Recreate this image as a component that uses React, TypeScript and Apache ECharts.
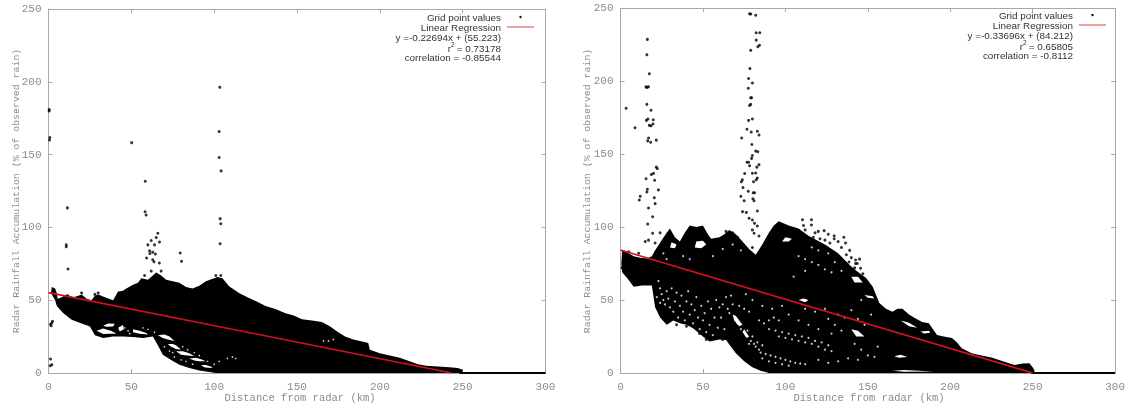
import React, { useEffect, useRef } from "react";
import * as echarts from "echarts";

type P = number[];
const xTicks = { min: 0, max: 300, interval: 50 };
const yTicks = { min: 0, max: 250, interval: 50 };
const xTitle = "Distance from radar (km)";
const yTitle = "Radar Rainfall Accumulation (% of observed rain)";
const legendDots = "Grid point values";
const legendLine = "Linear Regression";

const leftFit: P[] = [[0, 55.223], [243.3, 0]];
const rightFit: P[] = [[0, 84.212], [250, 0]];
const leftZero: P[] = [[248, 0], [300, 0]];
const rightZero: P[] = [[249, 0], [300, 0]];
const leftNotes = ["y =-0.22694x + (55.223)", "= 0.73178", "correlation = -0.85544"];
const rightNotes = ["y =-0.33696x + (84.212)", "= 0.65805", "correlation = -0.8112"];

const leftUpper: P[] = [[1.5, 55], [2, 59], [4, 58], [5, 55], [5.5, 51], [8, 52], [11, 54], [15, 52], [18, 53], [20, 54], [23, 51], [26, 50], [28, 53], [30, 54], [34, 52], [39, 50], [42, 56], [45, 56.5], [47, 58], [51, 60.6], [54, 62], [56, 65], [60, 64], [63, 67], [65, 69], [68, 67], [71, 64], [75, 63], [79, 62], [83, 59], [87, 58], [91, 60], [95, 63], [102, 66], [105, 65], [109, 59.5], [115, 55], [121, 51.5], [126, 49], [131, 46], [137, 44], [143, 41], [148, 39.5], [153, 37], [159, 36], [165, 35], [170, 32], [174, 28.6], [179, 25], [184, 23], [190, 21.5], [193, 20.6], [194, 16], [200, 13.5], [206, 12], [212, 10.5], [218, 8], [223, 6], [228, 5], [235, 4.5], [242, 4], [247, 3.5], [250, 2.3], [250, 0]];
const leftLower: P[] = [[1.5, 55], [4, 50], [5, 46], [9, 41], [14, 36.6], [20, 34], [25, 32], [28, 26], [33, 24], [39, 25], [45, 25], [51, 24.7], [57, 24], [63, 25], [66, 19], [69, 12.6], [74, 9], [79, 5.7], [85, 3.5], [91, 1.8], [101, 0], [250, 0]];
const leftHoles: P[][] = [
  [[29, 29], [33, 30.5], [38, 28.8], [41, 27], [37, 27], [33, 26.8]],
  [[33, 32.5], [36, 34], [40, 33.8], [39, 32], [35, 31.8]],
  [[42, 31], [45, 33], [45.5, 30], [43, 28.5]],
  [[51, 30], [55, 29], [59, 27.5], [60, 26.5], [55, 27], [51, 28]],
  [[66, 26], [70, 26.5], [73, 25], [76, 22], [72, 23], [69, 24]],
  [[72, 20], [75, 20], [77, 19], [80, 16], [77, 16.5], [74, 18]],
  [[77, 15], [81, 15], [85, 13.5], [88, 11.5], [84, 12], [80, 12.5]],
  [[85, 10], [89, 10.5], [92, 9.5], [95, 8], [91, 8], [88, 8.5]],
  [[92, 5.5], [95, 5.5], [98, 4.5], [99, 3.5], [96, 3.6], [94, 4]],
];
const leftSpecks: P[] = [[73, 15], [75, 14], [76, 11], [70, 18], [81, 18], [84, 16], [88, 14], [91, 12], [83, 8], [87, 6], [80, 9], [96, 8], [100, 6], [108, 10], [111, 11], [113, 10], [103, 8], [60, 30], [57, 31], [64, 28], [46, 31], [48, 29], [49, 27], [169, 22], [172, 23], [166, 22], [198, 17], [201, 16]];
const leftPoints: P[] = [[0.4, 181], [0.4, 180], [0.8, 161.7], [0.6, 160], [50.2, 158.2], [58.4, 131.7], [103.4, 196.2], [103, 165.8], [103, 148], [104.2, 138.8], [11.4, 113.4], [10.7, 88], [10.7, 86.7], [11.8, 71.4], [58.3, 110.7], [58.9, 108.5], [103.6, 106], [104, 102.5], [103.6, 88.8], [1.2, 9.6], [2, 5.7], [1, 5], [2, 34.3], [1.6, 32.5], [2.4, 35.5], [1.2, 33.5], [59.2, 79], [61.2, 82], [62.9, 83], [64.5, 81.7], [62.9, 77.8], [63.7, 76.4], [66.9, 75.5], [79.5, 82.4], [80.3, 76.7], [60, 88], [62, 91], [65, 93], [64, 88], [67, 90], [61, 84], [66, 96], [11.5, 53], [20, 55], [28, 54], [30, 55], [62, 70], [68, 70], [101, 67], [104, 67], [58, 67]];

const rightUpper: P[] = [[0.5, 75], [1, 84], [5, 82], [8, 80], [12, 79], [16, 78.5], [19, 80], [21, 84], [25, 91], [28, 96], [30, 99], [33, 93], [36, 90], [39, 96], [42, 101], [46, 100], [50, 101], [53, 95], [55, 92], [60, 93], [63, 95], [66, 98], [70, 95], [74, 90], [78, 85], [82, 81], [86, 88], [90, 96], [93, 101], [96, 104], [102, 101], [108, 99], [114, 94], [124, 88], [132, 82], [139, 74], [143, 70], [149, 65], [153, 59], [157, 48], [161, 44], [165, 42], [168, 44], [171, 44], [175, 40], [179, 37.4], [183, 35], [187, 34], [192, 26], [196, 25], [201, 24], [204, 21], [207, 17], [213, 13.5], [219, 12], [225, 10.7], [232, 8], [239, 5.5], [244, 6.5], [248, 6.6], [250, 4], [251, 2], [251, 0]];
const rightLower: P[] = [[0.5, 75], [1, 69], [4, 65], [8, 59], [13, 60], [19, 60], [21, 45], [24, 38], [28, 33], [32, 36], [36, 34], [40, 33], [44, 30.6], [50, 25], [54, 21.5], [60, 23], [64, 22.6], [67, 18], [70, 13.5], [75, 8], [80, 4], [85, 1.5], [90, 0], [251, 0]];
const rightHoles: P[][] = [
  [[45, 86], [49, 85.5], [52, 88], [50, 90.5], [46, 90]],
  [[30, 86], [33, 85.5], [34, 88], [31, 89.5]],
  [[98, 90], [102, 90], [104, 92], [100, 93]],
  [[108, 50], [112, 48.5], [114, 50], [111, 51]],
  [[68, 40], [70, 39], [74, 33], [72, 32], [69, 36]],
  [[75, 30], [78, 25], [76.5, 24], [74, 28]],
  [[140, 66], [144, 66], [147, 62], [142, 62]],
  [[140, 30], [144, 29], [148, 25], [143, 25]],
  [[170, 36], [175, 34.5], [180, 31], [175, 32]],
  [[182, 28.5], [187, 29], [188, 27.5], [184, 27]],
  [[166, 11.5], [170, 12.5], [174, 11], [169, 10.5]],
  [[165, 1.5], [172, 2], [190, 1], [172, 0.8]],
  [[148, 53.5], [153, 52.5], [154, 51], [150, 51.5]],
];
const rightSpecks: P[] = [
  [23, 63], [24, 58], [25, 54], [26, 50], [27, 47], [22, 52], [24, 48], [28, 56], [29, 51], [30, 45], [31, 58], [32, 42], [33, 49], [34, 55], [35, 38], [36, 46], [37, 53], [38, 42], [39, 36], [40, 49], [41, 56], [42, 40], [43, 47], [44, 34], [45, 43], [46, 52], [47, 38], [48, 30], [49, 46], [50, 36], [51, 41], [52, 28], [53, 49], [54, 33], [55, 44], [56, 26], [57, 38], [58, 50], [59, 31], [60, 45], [61, 38], [62, 47], [63, 30], [64, 52], [65, 44], [67, 53], [68, 47],
  [66, 41], [71, 34], [73, 30], [76, 26], [77, 29], [79, 22], [80, 25], [81, 20], [82, 18], [83, 21], [84, 16], [78, 20], [86, 19],
  [90, 30], [94, 29], [98, 28], [102, 27], [106, 26], [110, 25], [114, 24], [118, 22], [122, 21], [126, 19], [96, 25], [100, 24], [104, 23], [108, 22], [112, 21], [116, 20], [120, 18], [124, 16], [128, 15],
  [85, 14], [88, 13], [91, 12], [94, 11], [97, 10], [100, 9], [103, 8], [106, 7], [109, 6.5], [112, 6], [86, 10], [90, 8], [94, 7], [98, 6], [102, 5], [120, 9], [126, 7], [132, 8], [138, 10], [144, 9],
  [72, 46], [75, 44], [78, 42], [84, 36], [87, 34], [90, 36], [93, 38], [96, 36], [102, 40], [108, 36], [114, 33], [120, 30], [126, 37], [130, 33], [134, 29], [136, 38], [128, 27], [132, 40], [142, 20], [146, 16], [150, 12], [154, 11], [156, 18], [144, 37], [148, 33], [140, 43], [112, 44], [118, 42], [124, 44], [86, 46], [92, 44], [98, 46], [80, 50], [76, 54],
  [108, 80], [112, 78], [116, 76], [120, 74], [124, 71], [128, 69], [116, 86], [120, 84], [126, 82], [130, 76], [134, 70], [62, 85], [68, 88], [73, 84], [38, 80], [42, 78], [26, 82], [28, 78], [56, 80], [105, 66], [112, 70], [152, 40], [146, 50],
];
const rightPoints: P[] = [[3.4, 181.3], [8.8, 168], [16.3, 228.5], [16, 218], [17.5, 205], [15.5, 196], [16, 195.6], [17, 196], [16, 184], [18.5, 180], [15.7, 173], [16.6, 174], [19.9, 173.5], [17.5, 169.6], [18.5, 169.4], [19.7, 170.5], [17, 161], [16.5, 159], [18.3, 158], [21.7, 159.5], [21.7, 141], [22.3, 140], [18.7, 136], [20, 136.7], [15.5, 133], [20.7, 132], [16.3, 125.8], [16, 124], [23, 125.4], [20.5, 120], [12, 121], [11.4, 118.5], [17, 113], [21, 116], [19.5, 107], [16.5, 102], [19.5, 95.7], [15, 90], [17, 91], [21, 89],
  [78.3, 246], [79, 245.9], [82, 245], [82.3, 233], [84.5, 233], [82.3, 228], [83.3, 223.5], [84.3, 224.5], [79, 221], [78.5, 208.5], [77.7, 201.7], [80, 198.6], [77.5, 195], [79, 188.5], [79.5, 188.5], [79, 184], [78.3, 183.2], [77.7, 173], [80, 174], [76.7, 167], [79.3, 165], [83, 165.6], [84, 163], [73.5, 161], [79.7, 156.5], [82, 152], [83.3, 151.5], [80, 149], [79.5, 147], [76.7, 144.3], [77.7, 144.3], [78.3, 142], [84, 142.7], [82.7, 141], [75.3, 136.6], [80, 136.8], [82, 137], [83, 133.5], [82.3, 132.3], [80.7, 131], [73.9, 132.3], [73.3, 131], [74.3, 127], [77.5, 124.5], [80.5, 123.5], [81.3, 123.5], [73, 121], [80.3, 119.4], [75, 118], [81, 118], [74, 110.5], [76.3, 110], [83, 111], [78, 106], [80, 104.8], [81.3, 102.5], [83, 100.7], [80, 98], [81, 95.7], [84, 93.8],
  [110.4, 105], [115.8, 105], [115.8, 101.4], [123.5, 97.5], [129.6, 94], [135.5, 93], [136.5, 89], [129.6, 92], [142.6, 77.4], [142.6, 75], [138.6, 76], [145.6, 71.7], [143.6, 75], [118, 96], [126, 95], [132, 90], [139, 84], [145, 78], [112, 98], [117, 93], [121, 92], [124, 91], [127, 89], [134, 86], [137, 81], [140, 79], [147, 68], [142, 72], [111, 101], [120, 97],
  [2, 78], [3, 81], [1, 72], [5, 83], [11, 82], [24, 96], [28, 92], [31, 94], [64, 97], [68, 96], [71, 93], [80, 86], [60, 90], [23, 56], [25, 44], [29, 35], [34, 33], [48, 27], [52, 23], [62, 23], [45, 32], [40, 32],
];

const gray = "#8c8c8c";
const axisColor = "#a8a8a8";
const mono = "'Liberation Mono', monospace";
const sans = "'Liberation Sans', sans-serif";

function polySeries(polys: P[][], fill: string, xi: number, yi: number, z: number) {
  return {
    type: "custom",
    xAxisIndex: xi,
    yAxisIndex: yi,
    z,
    silent: true,
    coordinateSystem: "cartesian2d",
    data: polys.map((_, i) => [i, 0]),
    renderItem: (params: any, api: any) => ({
      type: "polygon",
      shape: { points: polys[params.dataIndex].map((p) => api.coord(p)) },
      style: { fill },
    }),
  };
}
const dots = (data: P[], color: string, size: number, xi: number, yi: number, z: number) => ({
  type: "scatter", data, xAxisIndex: xi, yAxisIndex: yi, z, symbol: "circle", symbolSize: size,
  itemStyle: { color }, silent: true,
});
const line = (data: P[], color: string, width: number, xi: number, yi: number, z: number) => ({
  type: "line", data, xAxisIndex: xi, yAxisIndex: yi, z, showSymbol: false,
  lineStyle: { color, width }, silent: true,
});

function xAxis(gridIndex: number, top: boolean): any {
  return {
    type: "value", gridIndex, ...xTicks, position: top ? "top" : "bottom",
    axisLine: { show: true, onZero: false, lineStyle: { color: axisColor, width: 1 } },
    axisTick: { show: true, inside: true, length: 4, lineStyle: { color: axisColor } },
    axisLabel: { show: !top, color: gray, fontFamily: mono, fontSize: 11, margin: 8 },
    splitLine: { show: false },
  };
}
function yAxis(gridIndex: number, right: boolean): any {
  return {
    type: "value", gridIndex, ...yTicks, position: right ? "right" : "left",
    axisLine: { show: true, onZero: false, lineStyle: { color: axisColor, width: 1 } },
    axisTick: { show: true, inside: true, length: 4, lineStyle: { color: axisColor } },
    axisLabel: { show: !right, color: gray, fontFamily: mono, fontSize: 11, margin: 7 },
    splitLine: { show: false },
  };
}
const txt = (text: string, x: number, y: number, align: string, size = 9.9, family = sans, color = "#333", rotation = 0) => ({
  type: "text", x, y, rotation, z: 20,
  style: { text, fill: color, font: `${size}px ${family}`, textAlign: align, textVerticalAlign: "middle" },
});
function legend(right: number, top: number, notes: string[]) {
  return [
    txt(legendDots, right, top, "right"),
    txt(legendLine, right, top + 10, "right"),
    txt(notes[0], right, top + 20, "right"),
    txt(notes[1], right, top + 31, "right"),
    txt("r", right - 50, top + 31, "right"),
    txt("2", right - 50, top + 27.5, "left", 6.5),
    txt(notes[2], right, top + 40, "right"),
    { type: "line", z: 20, shape: { x1: right + 6, y1: top + 10, x2: right + 33, y2: top + 10 }, style: { stroke: "#e04040", lineWidth: 1 } },
    { type: "circle", z: 20, shape: { cx: right + 19.5, cy: top, r: 1.2 }, style: { fill: "#000" } },
  ];
}

export default function App() {
  const ref = useRef<HTMLDivElement>(null);
  useEffect(() => {
    const chart = echarts.init(ref.current!, undefined, { renderer: "svg" });
    chart.setOption({
      animation: false,
      backgroundColor: "#fff",
      grid: [
        { left: 48.5, top: 9, width: 497, height: 364, containLabel: false },
        { left: 620.5, top: 8, width: 497.5, height: 365, containLabel: false },
      ],
      xAxis: [xAxis(0, false), xAxis(0, true), xAxis(1, false), xAxis(1, true)],
      yAxis: [yAxis(0, false), yAxis(0, true), yAxis(1, false), yAxis(1, true)],
      series: [
        polySeries([[...leftUpper, ...[...leftLower].reverse()]], "#000", 0, 0, 2),
        polySeries(leftHoles, "#fff", 0, 0, 3),
        dots(leftSpecks, "#fff", 1.6, 0, 0, 4),
        dots(leftPoints, "#000", 3, 0, 0, 5),
        line(leftZero, "#000", 2, 0, 0, 5),
        line(leftFit, "#d8101c", 1.6, 0, 0, 6),
        polySeries([[...rightUpper, ...[...rightLower].reverse()]], "#000", 2, 2, 2),
        polySeries(rightHoles, "#fff", 2, 2, 3),
        dots(rightSpecks, "#fff", 2, 2, 2, 4),
        dots(rightPoints, "#000", 3, 2, 2, 5),
        line(rightZero, "#000", 2, 2, 2, 5),
        line(rightFit, "#d8101c", 1.6, 2, 2, 6),
      ],
      graphic: [
        txt(xTitle, 300, 398, "center", 10.5, mono, gray),
        txt(xTitle, 869, 398, "center", 10.5, mono, gray),
        txt(yTitle, 16, 191, "center", 9.9, mono, gray, Math.PI / 2),
        txt(yTitle, 587, 191, "center", 9.9, mono, gray, Math.PI / 2),
        ...legend(501, 17, leftNotes),
        ...legend(1073, 15, rightNotes),
      ],
    });
    return () => chart.dispose();
  }, []);
  return <div ref={ref} style={{ position: "fixed", left: 0, top: 0, width: 1128, height: 408, filter: "blur(0.4px)" }} />;
}
